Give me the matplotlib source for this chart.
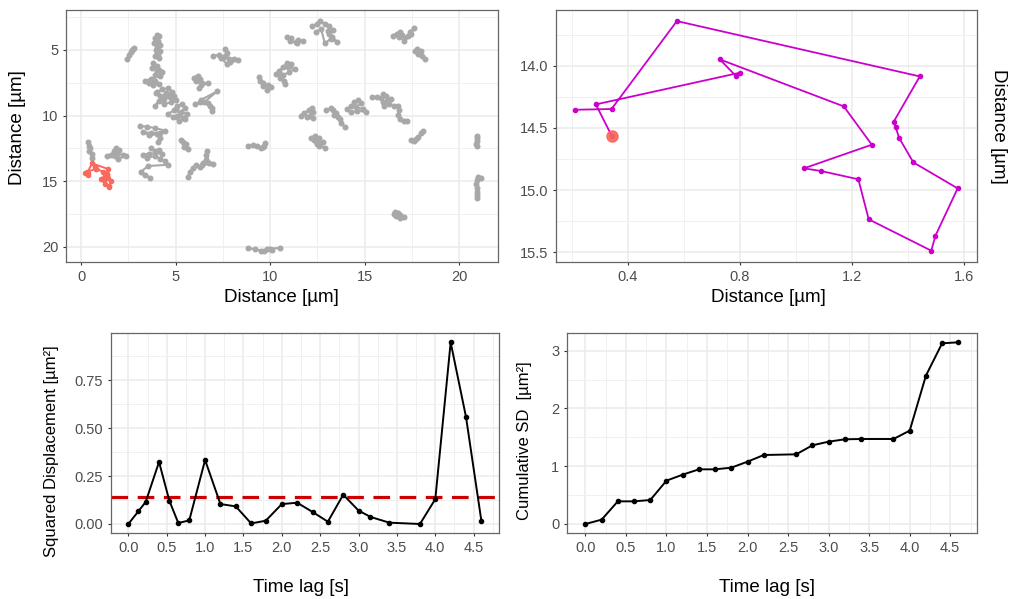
import matplotlib.pyplot as plt
from matplotlib.ticker import MultipleLocator

plt.rcParams['font.family'] = ['Liberation Sans', 'DejaVu Sans']

# highlighted particle, positions in µm (x, y)
track_x = [0.212, 0.342, 0.575, 1.441, 1.348, 1.355, 1.367, 1.418, 1.576, 1.497, 1.482,
           1.259, 1.222, 1.090, 1.028, 1.270, 1.170, 0.728, 0.787, 0.800, 0.286, 0.343]
track_y = [14.354, 14.348, 13.641, 14.086, 14.450, 14.493, 14.579, 14.777, 14.986, 15.366, 15.487,
           15.235, 14.913, 14.847, 14.825, 14.635, 14.327, 13.949, 14.086, 14.056, 14.311, 14.565]

# all other particles in the field of view
bg_tracks = [
    [(2.45, 5.65), (2.55, 5.4), (2.65, 5.15), (2.7, 5.0), (2.8, 4.85), (2.75, 4.95)],
    [(4.0, 3.85), (4.1, 3.95), (3.9, 4.1), (4.05, 4.3), (3.85, 4.45), (4.15, 4.6), (4.0, 4.8),
     (3.95, 5.0), (4.2, 5.05), (4.05, 5.3), (3.9, 5.45), (4.1, 5.6), (4.0, 5.2), (3.95, 4.2)],
    [(3.8, 6.0), (4.0, 6.2), (3.75, 6.35), (4.1, 6.5), (4.3, 6.7), (4.0, 6.6), (3.9, 6.9),
     (4.15, 7.0), (3.7, 7.2), (3.4, 7.35), (3.6, 7.5), (3.9, 7.4), (4.1, 7.6), (3.8, 7.65)],
    [(4.0, 8.2), (4.3, 8.0), (4.6, 7.9), (4.8, 8.2), (4.5, 8.4), (4.2, 8.5), (3.95, 8.3), (4.4, 8.7),
     (4.7, 8.6), (5.0, 8.8), (4.75, 9.0), (4.4, 9.1), (4.1, 8.9), (3.9, 9.3), (4.5, 8.25), (4.9, 8.5)],
    [(4.6, 9.9), (4.9, 9.6), (5.1, 9.3), (5.35, 9.1), (5.5, 9.4), (5.3, 9.7), (5.6, 9.9),
     (5.4, 10.2), (5.1, 10.0), (4.85, 10.1), (5.2, 10.4), (5.5, 10.3), (5.0, 9.5)],
    [(3.1, 10.8), (3.5, 10.85), (3.9, 10.95), (4.45, 11.15), (4.2, 11.3), (3.7, 11.35), (3.3, 11.25),
     (3.6, 11.5), (4.0, 11.4), (4.15, 11.7), (4.05, 12.0)],
    [(5.3, 11.85), (5.4, 12.05), (5.55, 12.2), (5.45, 12.4), (5.65, 12.55), (5.5, 12.3)],
    [(3.7, 12.5), (3.9, 12.7), (4.1, 12.6), (4.3, 12.9), (3.6, 12.9), (3.25, 13.0), (3.5, 13.2),
     (3.9, 13.1), (4.2, 13.3), (4.45, 13.5), (4.6, 13.75), (3.55, 13.85), (3.15, 14.3), (3.4, 14.5),
     (3.65, 14.75)],
    [(5.65, 14.65), (5.75, 14.3), (5.9, 14.0), (6.1, 13.8), (6.3, 13.9), (6.45, 13.6), (6.6, 13.4),
     (6.6, 13.0), (6.65, 12.7), (6.75, 13.6), (7.0, 13.7), (6.4, 13.75)],
    [(5.95, 7.1), (6.2, 6.95), (6.3, 7.2), (6.1, 7.4), (6.4, 7.5), (6.7, 7.55), (6.35, 7.7), (6.25, 7.9)],
    [(6.0, 9.1), (6.3, 9.0), (6.35, 8.8), (7.2, 8.15), (6.5, 9.0), (6.7, 9.05), (6.8, 9.3),
     (6.95, 9.45), (6.9, 9.65)],
    [(7.0, 5.45), (7.3, 5.35), (7.55, 5.5), (7.7, 5.2), (7.6, 4.9), (7.8, 5.7), (8.1, 5.65),
     (8.3, 5.75), (7.9, 5.95), (7.7, 6.05), (7.4, 5.6)],
    [(9.4, 7.05), (9.45, 7.4), (9.65, 7.55), (9.6, 7.75), (9.9, 7.65), (10.05, 7.85), (9.85, 8.05)],
    [(10.45, 6.6), (10.7, 6.3), (10.9, 6.0), (11.1, 6.05), (10.95, 6.3), (11.3, 6.45), (11.0, 6.7),
     (10.7, 6.9), (10.5, 7.1), (10.75, 7.35), (10.8, 7.6), (10.6, 6.9), (10.3, 6.8)],
    [(10.9, 4.0), (11.1, 4.1), (11.05, 4.35), (11.35, 4.4), (11.5, 4.2), (11.75, 4.35), (11.4, 4.45)],
    [(12.2, 3.2), (12.5, 3.0), (12.65, 2.8), (12.9, 3.0), (13.1, 3.2), (13.35, 3.5), (13.05, 3.55),
     (13.1, 3.75), (13.3, 4.0), (13.55, 4.4), (13.2, 4.15), (12.9, 4.5), (12.7, 3.4), (12.45, 3.6)],
    [(8.85, 12.3), (9.1, 12.25), (9.3, 12.35), (9.5, 12.45), (9.7, 12.3), (9.75, 12.1), (9.6, 12.4)],
    [(8.85, 20.1), (9.2, 20.2), (9.5, 20.3), (9.7, 20.35), (9.85, 20.2), (10.1, 20.25), (10.0, 20.15),
     (10.55, 20.1)],
    [(11.65, 10.0), (11.8, 9.8), (12.05, 9.6), (12.2, 9.4), (12.25, 9.75), (12.1, 10.0), (12.25, 10.2),
     (11.95, 10.1)],
    [(12.15, 11.7), (12.35, 11.55), (12.6, 11.7), (12.45, 11.95), (12.8, 12.05), (12.6, 12.3),
     (12.9, 12.45), (12.5, 12.2), (12.3, 11.9)],
    [(12.95, 9.6), (13.2, 9.45), (13.35, 9.55), (13.5, 9.8), (13.4, 9.95), (13.6, 10.1), (13.7, 10.3),
     (13.75, 10.55), (13.95, 10.85)],
    [(14.05, 9.5), (14.3, 9.3), (14.45, 9.0), (14.65, 8.8), (14.8, 9.05), (14.55, 9.35), (14.9, 9.5),
     (15.1, 9.7), (14.6, 9.65), (14.3, 9.75)],
    [(15.4, 8.55), (15.65, 8.6), (15.85, 8.65), (15.95, 9.0), (16.05, 9.3), (16.2, 8.9), (16.15, 8.5),
     (16.0, 8.35), (16.4, 8.75), (16.3, 9.1)],
    [(16.55, 9.3), (16.75, 9.25), (16.8, 9.6), (16.75, 9.95), (16.9, 10.3), (17.1, 10.45), (17.25, 10.4)],
    [(16.5, 3.9), (16.7, 3.75), (16.9, 3.6), (17.0, 3.85), (16.8, 4.0), (17.1, 4.1), (17.3, 3.9),
     (17.4, 3.6), (17.6, 3.35), (17.45, 3.8), (17.1, 4.35)],
    [(17.65, 5.05), (17.8, 4.9), (18.0, 5.1), (17.85, 5.3), (18.05, 5.45), (18.2, 5.65)],
    [(17.45, 11.85), (17.7, 11.8), (17.6, 11.95), (17.85, 11.6), (18.0, 11.35), (18.1, 11.15)],
    [(16.6, 17.35), (16.75, 17.45), (16.65, 17.65), (16.9, 17.6), (17.1, 17.7), (16.85, 17.8),
     (16.55, 17.5)],
    [(20.95, 11.55), (20.93, 11.75), (20.95, 11.95), (20.92, 12.15), (20.95, 12.35)],
    [(21.0, 14.7), (21.15, 14.8), (20.95, 14.9), (20.92, 15.2), (20.95, 15.5), (20.93, 15.8),
     (20.96, 16.05), (20.95, 16.3)],
    [(0.35, 12.0), (0.4, 12.3), (0.45, 12.5), (0.4, 12.7), (0.55, 12.9), (0.55, 13.2)],
    [(1.35, 13.1), (1.6, 13.0), (1.75, 12.7), (1.85, 12.5), (2.0, 12.6), (1.9, 12.9), (2.2, 13.0),
     (2.4, 13.05), (1.95, 13.3), (1.8, 13.1)],
]

# squared displacement of each step
sd_t = [0.0, 0.13, 0.226, 0.40, 0.534, 0.651, 0.794, 1.0, 1.2, 1.4, 1.6, 1.79, 2.0, 2.2, 2.4,
        2.6, 2.8, 3.0, 3.155, 3.4, 3.8, 4.0, 4.2, 4.4, 4.6]
sd_v = [0.0, 0.066, 0.115, 0.324, 0.122, 0.005, 0.019, 0.334, 0.104, 0.092, 0.003, 0.017, 0.104,
        0.111, 0.063, 0.012, 0.153, 0.070, 0.037, 0.007, 0.0, 0.130, 0.948, 0.559, 0.017]
sd_mean = 0.141

# cumulative squared displacement
cum_t = [0.0, 0.2, 0.4, 0.6, 0.8, 1.0, 1.2, 1.4, 1.6, 1.8, 2.0, 2.2, 2.6, 2.8, 3.0, 3.2, 3.4,
         3.8, 4.0, 4.2, 4.4, 4.6]
cum_v = [0.0, 0.075, 0.392, 0.392, 0.415, 0.75, 0.854, 0.946, 0.946, 0.975, 1.079, 1.194, 1.206,
         1.362, 1.425, 1.466, 1.471, 1.471, 1.616, 2.568, 3.128, 3.145]

W, H = 1009, 599
fig = plt.figure(figsize=(W / 100, H / 100), dpi=100)


def px_axes(left, top, right, bottom):
    return fig.add_axes([left / W, 1 - bottom / H, (right - left) / W, (bottom - top) / H])


def px_text(x, y, s, fontsize=13.5, **kw):
    fig.text(x / W, 1 - y / H, s, ha='center', va='center', fontsize=fontsize, **kw)


def bw_style(ax, xmaj, ymaj):
    ax.xaxis.set_major_locator(MultipleLocator(xmaj))
    ax.xaxis.set_minor_locator(MultipleLocator(xmaj / 2))
    ax.yaxis.set_major_locator(MultipleLocator(ymaj))
    ax.yaxis.set_minor_locator(MultipleLocator(ymaj / 2))
    ax.grid(which='major', color='#EBEBEB', lw=1.1)
    ax.grid(which='minor', color='#F0F0F0', lw=0.7)
    ax.set_axisbelow(True)
    for s in ax.spines.values():
        s.set_color('#666666')
        s.set_linewidth(0.9)
    ax.tick_params(which='major', direction='out', length=2.5, width=0.8, color='#333333',
                   labelsize=10.5, labelcolor='#4D4D4D', pad=3)
    ax.tick_params(which='minor', length=0)


# all tracks
ax1 = px_axes(66, 10, 498, 262)
for tr in bg_tracks:
    xs = [p[0] for p in tr]
    ys = [p[1] for p in tr]
    ax1.plot(xs, ys, '-o', color='#A8A8A8', lw=1.5, ms=3.3, solid_joinstyle='round')
ax1.plot(track_x, track_y, '-o', color='#F9695C', lw=1.4, ms=3.0)
ax1.set_xlim(-0.8, 22.06)
ax1.set_ylim(21.17, 1.95)
bw_style(ax1, 5, 5)
px_text(281, 298, 'Distance [µm]')
px_text(18, 128, 'Distance [µm]', rotation=90)

# zoom on the highlighted particle
ax2 = px_axes(556, 10, 977, 262)
ax2.plot(track_x, track_y, '-o', color='#CC00CC', lw=1.3, ms=3)
ax2.plot(track_x[-1], track_y[-1], 'o', color='#F8665A', ms=8, alpha=0.9)
ax2.set_xlim(0.144, 1.645)
ax2.set_ylim(15.578, 13.552)
bw_style(ax2, 0.4, 0.5)
ax2.yaxis.set_major_formatter(plt.FormatStrFormatter('%.1f'))
px_text(768, 298, 'Distance [µm]')
px_text(999, 126, 'Distance [µm]', rotation=270)

# squared displacement per time lag
ax3 = px_axes(111, 333, 499, 533)
ax3.axhline(sd_mean, color='#CC0000', lw=2.3, dashes=(5.2, 3))
ax3.plot(sd_t, sd_v, '-o', color='black', lw=1.4, ms=3)
ax3.set_xlim(-0.226, 4.83)
ax3.set_ylim(-0.047, 0.997)
bw_style(ax3, 0.5, 0.25)
ax3.yaxis.set_major_formatter(plt.FormatStrFormatter('%.2f'))
ax3.xaxis.set_major_formatter(plt.FormatStrFormatter('%.1f'))
px_text(301, 587, 'Time lag [s]')
px_text(52, 451, 'Squared Displacement [µm²]', fontsize=12, rotation=90)

# cumulative squared displacement
ax4 = px_axes(567, 333, 977, 533)
ax4.plot(cum_t, cum_v, '-o', color='black', lw=1.4, ms=3)
ax4.set_xlim(-0.227, 4.83)
ax4.set_ylim(-0.156, 3.306)
bw_style(ax4, 0.5, 1)
ax4.xaxis.set_major_formatter(plt.FormatStrFormatter('%.1f'))
px_text(767, 587, 'Time lag [s]')
px_text(525, 441, 'Cumulative SD  [µm²]', fontsize=12, rotation=90)

fig.savefig('out.png', dpi=100)
